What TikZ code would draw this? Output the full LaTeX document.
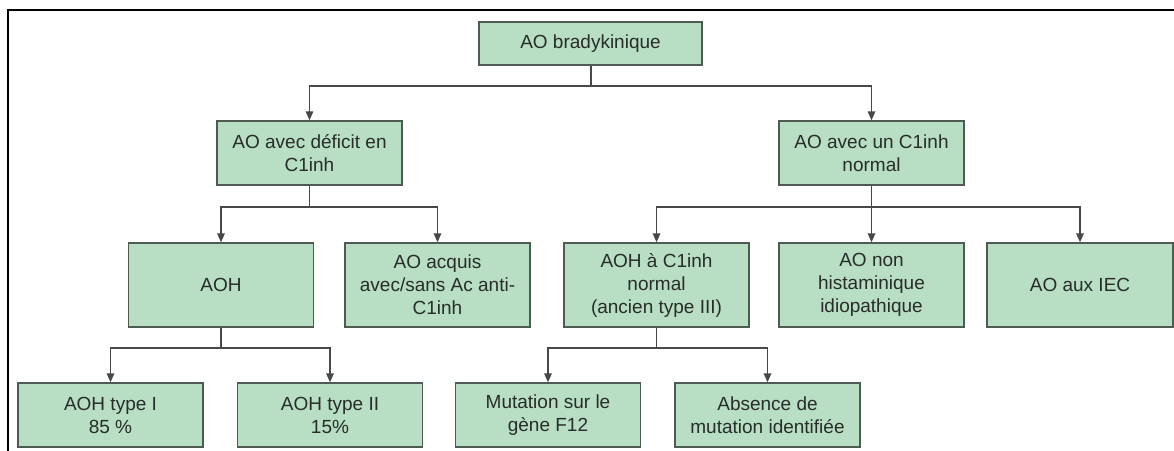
\documentclass[tikz,border=0pt]{standalone}
\usepackage{fontspec}
\setmainfont{Liberation Sans}
\usetikzlibrary{arrows.meta}
\definecolor{boxfill}{RGB}{184,222,196}
\definecolor{boxline}{RGB}{78,90,82}
\definecolor{linec}{RGB}{72,72,72}
\definecolor{txt}{RGB}{40,44,42}
\tikzset{
  box/.style={draw=boxline, fill=boxfill, line width=1.4pt, align=center, inner sep=0pt,
    text=txt, font=\fontsize{19}{23}\selectfont, minimum height=64pt, minimum width=185pt},
  rowtwo/.style={minimum height=84pt},
  conn/.style={draw=linec, line width=1.6pt, -{Triangle[length=9pt,width=7.5pt]}},
  frameline/.style={draw=black, line width=2pt}
}
\begin{document}
\begin{tikzpicture}[x=1pt,y=-1pt]
\useasboundingbox (0,0) rectangle (1174,450);
\fill[white] (0,0) rectangle (1174,450);
% frame
\coordinate (fb) at (8,452);
\coordinate (fc) at (8,10);
\coordinate (fr) at (1176,10);
\draw[frameline] (fb) -- (fc) -- (fr);
% nodes
\node[box, minimum width=223pt, minimum height=43pt] (top) at (590.5,43.5) {AO bradykinique};
\node[box] (defi) at (309.5,153) {AO avec déficit en\\C1inh};
\node[box] (norm) at (871.5,153) {AO avec un C1inh\\normal};
\node[box, rowtwo] (aoh) at (221,285) {AOH};
\node[box, rowtwo] (acq) at (437.5,285) {AO acquis\\avec/sans Ac anti-\\C1inh};
\node[box, rowtwo] (aohn) at (656.5,285) {AOH à C1inh\\normal\\(ancien type III)};
\node[box, rowtwo] (nonh) at (871.5,285) {AO non\\histaminique\\idiopathique};
\node[box, rowtwo, minimum width=186pt] (iec) at (1080,285) {AO aux IEC};
\node[box] (t1) at (110.5,415) {AOH type I\\85 \%};
\node[box] (t2) at (330,415) {AOH type II\\15\%};
\node[box] (f12) at (548,415) {Mutation sur le\\gène F12};
\node[box] (abs) at (767.5,415) {Absence de\\mutation identifiée};
% junctions
\coordinate (j0) at (591,86);
\coordinate (j1) at (309.5,207);
\coordinate (j2) at (871.5,207);
\coordinate (j3) at (221,348);
\coordinate (j4) at (656.5,348);
% connectors
\draw[conn] (top.south -| j0) -- (j0) -| (defi.north);
\draw[conn] (top.south -| j0) -- (j0) -| (norm.north);
\draw[conn] (defi.south) -- (j1) -| (aoh.north);
\draw[conn] (defi.south) -- (j1) -| (acq.north);
\draw[conn] (norm.south) -- (j2) -| (aohn.north);
\draw[conn] (norm.south) -- (nonh.north);
\draw[conn] (norm.south) -- (j2) -| (iec.north);
\draw[conn] (aoh.south) -- (j3) -| (t1.north);
\draw[conn] (aoh.south) -- (j3) -| (t2.north);
\draw[conn] (aohn.south) -- (j4) -| (f12.north);
\draw[conn] (aohn.south) -- (j4) -| (abs.north);
\end{tikzpicture}
\end{document}
